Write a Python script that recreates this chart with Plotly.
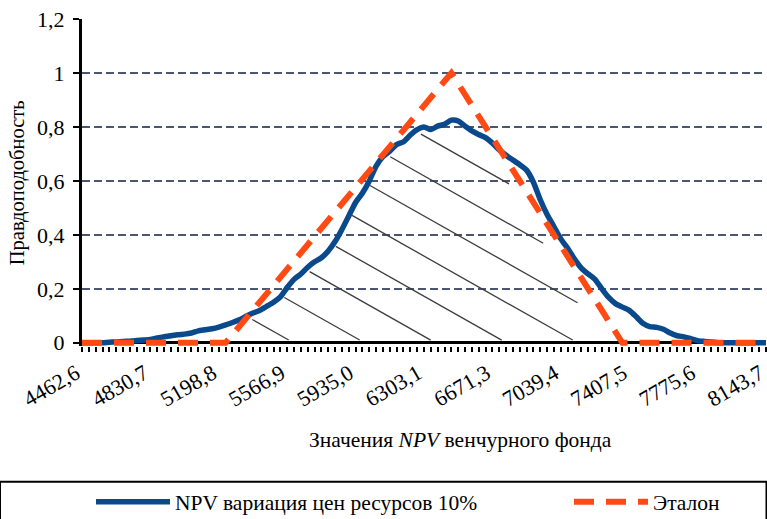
import numpy as np
import plotly.graph_objects as go

# NPV categories of the venture fund (101 equal bins) and the labelled ones
npv_first, npv_last, n_bins = 4462.6, 8143.7, 101
npv = np.round(np.linspace(npv_first, npv_last, n_bins), 1)
tick_vals = [4462.6, 4830.7, 5198.8, 5566.9, 5935.0, 6303.1, 6671.3, 7039.4, 7407.5, 7775.6, 8143.7]
tick_text = ["4462,6", "4830,7", "5198,8", "5566,9", "5935,0", "6303,1",
             "6671,3", "7039,4", "7407,5", "7775,6", "8143,7"]

# Likelihood of NPV with 10% resource price variation (one value per bin)
npv_likelihood = [
    0, 0, 0, 0, 0.002, 0.003, 0.005, 0.006, 0.008, 0.01,
    0.012, 0.018, 0.022, 0.026, 0.03, 0.032, 0.036, 0.044, 0.048, 0.052,
    0.058, 0.066, 0.075, 0.085, 0.098, 0.11, 0.12, 0.135, 0.15, 0.17,
    0.205, 0.235, 0.255, 0.28, 0.30, 0.315, 0.34, 0.375, 0.42, 0.47,
    0.52, 0.555, 0.60, 0.655, 0.69, 0.71, 0.735, 0.745, 0.77, 0.79,
    0.80, 0.79, 0.803, 0.81, 0.825, 0.822, 0.803, 0.785, 0.772, 0.76,
    0.74, 0.715, 0.695, 0.677, 0.66, 0.64, 0.595, 0.53, 0.475, 0.43,
    0.385, 0.35, 0.31, 0.277, 0.255, 0.235, 0.20, 0.168, 0.145, 0.132,
    0.12, 0.097, 0.072, 0.06, 0.057, 0.05, 0.036, 0.026, 0.022, 0.015,
    0.008, 0.005, 0.003, 0, 0, 0, 0, 0, 0, 0, 0,
]

# Reference (triangular) distribution: corner points
etalon_x = [4462.6, 5235.6, 6450.4, 7370.7, 8143.7]
etalon_y = [0, 0, 1, 0, 0]

BLUE = "#0A4A8C"
ORANGE = "#FF4A14"
SERIF = "Liberation Serif"

# Hatching of the area under the NPV curve: parallel descending strokes,
# kept a little below the curve and cut by a slanted right edge
hatch_slope = 3.89e-4      # likelihood units per NPV unit
hatch_first = 8275.0       # NPV where the first stroke meets the zero line
hatch_step = 382.0
hatch_count = 8
hatch_gap = 0.022
edge_x0, edge_y0, edge_dx = 7126.5, 0.152, 836.7

xs = np.linspace(npv_first, npv_last, 8000)
curve = np.interp(xs, npv, npv_likelihood)
hatch_x, hatch_y = [], []
for k in range(hatch_count):
    base = hatch_first - k * hatch_step
    ly = hatch_slope * (base - xs)
    edge = edge_x0 + (edge_y0 - ly) * edge_dx
    inside = (ly >= 0.01) & (ly <= curve - hatch_gap) & (xs <= edge)
    idx = np.where(inside)[0]
    if idx.size < 2:
        continue
    breaks = np.where(np.diff(idx) > 1)[0]
    run = idx[breaks[-1] + 1:] if breaks.size else idx
    hatch_x += [xs[run[0]], xs[run[-1]], None]
    hatch_y += [ly[run[0]], ly[run[-1]], None]

fig = go.Figure()
fig.add_trace(go.Scatter(x=hatch_x, y=hatch_y, mode="lines", showlegend=False,
                         hoverinfo="skip", line=dict(color="#3c3c3c", width=1.3)))
fig.add_trace(go.Scatter(x=npv, y=npv_likelihood, mode="lines",
                         name="NPV вариация цен ресурсов 10%", legend="legend",
                         line=dict(color=BLUE, width=5.5, shape="spline", smoothing=0.6)))
fig.add_trace(go.Scatter(x=etalon_x, y=etalon_y, mode="lines", name="Эталон",
                         legend="legend2",
                         line=dict(color=ORANGE, width=6, dash="20px,12px")))

legend_style = dict(orientation="h", xanchor="left", y=-0.476, yanchor="middle",
                    itemwidth=74,
                    font=dict(family=SERIF, size=21.5), bgcolor="rgba(0,0,0,0)")

fig.update_layout(
    width=767, height=519,
    margin=dict(l=82, r=1, t=19, b=173, autoexpand=False),
    paper_bgcolor="white", plot_bgcolor="white",
    font=dict(family=SERIF, size=20, color="black"),
    xaxis=dict(
        range=[npv_first - 0.05, npv_last + 0.05], tickvals=tick_vals, ticktext=tick_text,
        tickangle=-30, ticks="outside", ticklen=5, tickwidth=2, tickcolor="black",
        ticklabeloverflow="allow", ticklabelshift=-6,
        showgrid=False, zeroline=False, showline=False, automargin=False,
        tickfont=dict(family=SERIF, size=22),
        minor=dict(dtick=36.811, tick0=npv_first, ticks="outside", ticklen=5,
                   tickwidth=2, tickcolor="black", showgrid=False),
    ),
    yaxis=dict(
        range=[-0.012, 1.2], tickvals=[0, 0.2, 0.4, 0.6, 0.8, 1.0, 1.2],
        ticktext=["0", "0,2", "0,4", "0,6", "0,8", "1", "1,2"],
        ticks="outside", ticklen=6, tickwidth=2, tickcolor="black",
        ticklabelstandoff=4,
        showline=True, linecolor="black", linewidth=3, automargin=False,
        showgrid=True, gridcolor="#4a5670", gridwidth=1.8, griddash="8px,4px",
        zeroline=True, zerolinecolor="black", zerolinewidth=3,
        tickfont=dict(family=SERIF, size=22),
    ),
    legend=dict(x=(91 - 82) / 684, **legend_style),
    legend2=dict(x=(569 - 82) / 684, **legend_style),
    annotations=[
        dict(text="Значения <i>NPV</i> венчурного фонда", xref="paper", yref="paper",
             x=0.554, y=-0.287, xanchor="center", yanchor="middle", showarrow=False,
             font=dict(family=SERIF, size=21.5)),
        dict(text="Правдоподобность", xref="paper", yref="paper",
             x=-0.094, y=0.5, xanchor="center", yanchor="middle", textangle=-90,
             showarrow=False, font=dict(family=SERIF, size=20.5)),
    ],
    shapes=[
        dict(type="rect", xref="paper", yref="paper",
             x0=-82 / 684, x1=1 + 0.5 / 684, y0=-0.58, y1=(346.2 - 482) / 327.2,
             line=dict(color="black", width=2), fillcolor="rgba(0,0,0,0)", layer="above"),
    ],
)

fig.write_html("out.html")
